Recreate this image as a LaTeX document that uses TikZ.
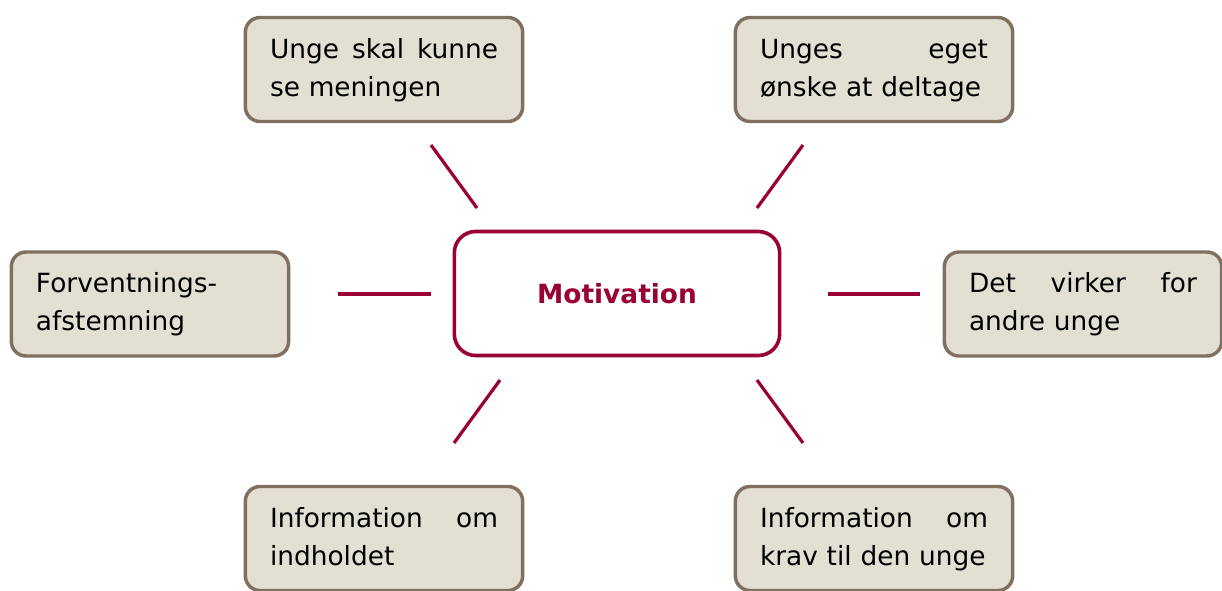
\documentclass[tikz,border=0pt]{standalone}
\usepackage{fontspec}
\setmainfont{DejaVu Sans}
\definecolor{wine}{RGB}{153,0,51}
\definecolor{boxfill}{RGB}{227,224,211}
\definecolor{boxline}{RGB}{128,112,96}
\newcommand\jline[1]{\makebox[171pt][s]{\spaceskip=.3333em plus 1fil\strut #1}}
\newcommand\pline[1]{\strut #1}
\tikzset{
  topic/.style={draw=boxline, fill=boxfill, line width=2.6pt, rounded corners=11pt,
    minimum width=208pt, minimum height=78pt, text width=171pt, inner xsep=0pt,
    align=left, font=\fontsize{19.8}{28.5}\selectfont, text=black},
  core/.style={draw=wine, fill=white, line width=2.7pt, rounded corners=16pt,
    minimum width=244pt, minimum height=93pt, font=\fontsize{19.8}{22}\selectfont\bfseries, text=wine},
  spoke/.style={draw=wine, line width=2.4pt}
}
\begin{document}
\begin{tikzpicture}[x=0.75pt,y=-0.75pt]
\useasboundingbox (0,0) rectangle (1222,590);
\clip (0,0) rectangle (1222,590);
\node[core] (mot) at (617,293.5) {Motivation};
\node[topic] (tl) at (384,69.5) {\jline{Unge skal kunne}\\\pline{se meningen}};
\node[topic] (tr) at (874,69.5) {\jline{Unges eget}\\\pline{ønske at deltage}};
\node[topic] (l) at (150,304) {\pline{Forventnings-}\\\pline{afstemning}};
\node[topic] (r) at (1083,304) {\jline{Det virker for}\\\pline{andre unge}};
\node[topic] (bl) at (384,538.5) {\jline{Information om}\\\pline{indholdet}};
\node[topic] (br) at (874,538.5) {\jline{Information om}\\\pline{krav til den unge}};
\coordinate (tla) at (431,145); \coordinate (tlb) at (477,208);
\coordinate (tra) at (803,145); \coordinate (trb) at (757,208);
\coordinate (la) at (338,294); \coordinate (lb) at (431,294);
\coordinate (ra) at (828,294); \coordinate (rb) at (920,294);
\coordinate (bla) at (500,380); \coordinate (blb) at (454,443);
\coordinate (bra) at (757,380); \coordinate (brb) at (803,443);
\draw[spoke] (tla) -- (tlb);
\draw[spoke] (tra) -- (trb);
\draw[spoke] (la) -- (lb);
\draw[spoke] (ra) -- (rb);
\draw[spoke] (bla) -- (blb);
\draw[spoke] (bra) -- (brb);
\end{tikzpicture}
\end{document}
